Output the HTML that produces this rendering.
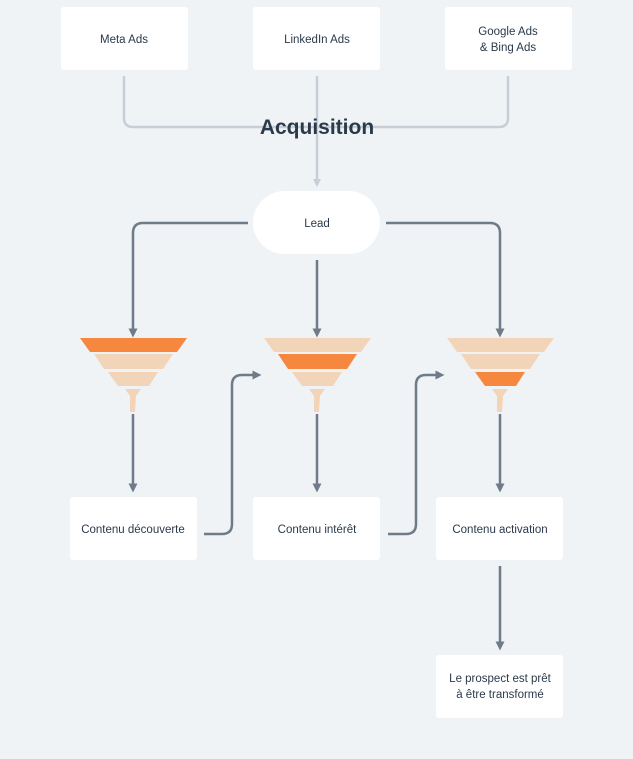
<!DOCTYPE html>
<html><head><meta charset="utf-8"><style>
html,body{margin:0;padding:0;background:#f0f3f6;}
svg{display:block;font-family:"Liberation Sans",sans-serif;}
</style></head><body>
<svg width="633" height="759" viewBox="0 0 633 759" xmlns="http://www.w3.org/2000/svg">
<defs>
<marker id="ag" markerWidth="8" markerHeight="8" refX="4" refY="4" orient="auto" markerUnits="userSpaceOnUse"><path d="M0,0 L8,4 L0,8 z" fill="#c8ced6"/></marker>
<marker id="ad" markerWidth="9" markerHeight="9" refX="4.5" refY="4.5" orient="auto" markerUnits="userSpaceOnUse"><path d="M0,0 L9,4.5 L0,9 z" fill="#6e7b88"/></marker>
<g id="f1"><polygon points="-53,338 54,338 44,352 -43,352" fill="#f5873f"/><polygon points="-39,354 40,354 30,369 -29,369" fill="#f2d5b8"/><polygon points="-25,372 25,372 16,386 -15,386" fill="#f2d5b8"/><polygon points="-8,389 8,389 3,396 2,412 -3,412 -3,396" fill="#f2d5b8"/></g>
<g id="f2"><polygon points="-53,338 54,338 44,352 -43,352" fill="#f2d5b8"/><polygon points="-39,354 40,354 30,369 -29,369" fill="#f5873f"/><polygon points="-25,372 25,372 16,386 -15,386" fill="#f2d5b8"/><polygon points="-8,389 8,389 3,396 2,412 -3,412 -3,396" fill="#f2d5b8"/></g>
<g id="f3"><polygon points="-53,338 54,338 44,352 -43,352" fill="#f2d5b8"/><polygon points="-39,354 40,354 30,369 -29,369" fill="#f2d5b8"/><polygon points="-25,372 25,372 16,386 -15,386" fill="#f5873f"/><polygon points="-8,389 8,389 3,396 2,412 -3,412 -3,396" fill="#f2d5b8"/></g>
</defs>
<g fill="none" stroke="#c8ced6" stroke-width="2.5">
<path d="M124,76 V118 Q124,127 133,127 H499 Q508,127 508,118 V76"/>
<path d="M317,76 V183" marker-end="url(#ag)"/>
</g>
<text x="317" y="134" text-anchor="middle" font-size="21" font-weight="bold" fill="#2a3a4b">Acquisition</text>
<g fill="#fff">
<rect x="61" y="7" width="127" height="63" rx="3"/>
<rect x="253" y="7" width="127" height="63" rx="3"/>
<rect x="445" y="7" width="127" height="63" rx="3"/>
<rect x="253" y="191" width="127" height="63" rx="31.5"/>
<rect x="70" y="497" width="127" height="63" rx="3"/>
<rect x="253" y="497" width="127" height="63" rx="3"/>
<rect x="436" y="497" width="127" height="63" rx="3"/>
<rect x="436" y="655" width="127" height="63" rx="3"/>
</g>
<g fill="none" stroke="#6e7b88" stroke-width="2.5">
<path d="M248,223 H143 Q133,223 133,233 V333" marker-end="url(#ad)"/>
<path d="M386,223 H490 Q500,223 500,233 V333" marker-end="url(#ad)"/>
<path d="M317,260 V333" marker-end="url(#ad)"/>
<path d="M133,414 V488" marker-end="url(#ad)"/>
<path d="M317,414 V488" marker-end="url(#ad)"/>
<path d="M500,414 V488" marker-end="url(#ad)"/>
<path d="M204,534 H222 Q232,534 232,524 V385 Q232,375 242,375 H257" marker-end="url(#ad)"/>
<path d="M388,534 H406 Q416,534 416,524 V385 Q416,375 426,375 H440" marker-end="url(#ad)"/>
<path d="M500,566 V646" marker-end="url(#ad)"/>
</g>
<use href="#f1" x="133"/>
<use href="#f2" x="317"/>
<use href="#f3" x="500"/>
<g font-size="11.5" fill="#2a3a4b" text-anchor="middle">
<text x="124" y="43">Meta Ads</text>
<text x="317" y="43">LinkedIn Ads</text>
<text x="508" y="35">Google Ads</text>
<text x="508" y="51">&amp; Bing Ads</text>
<text x="317" y="227">Lead</text>
<text x="133" y="533">Contenu découverte</text>
<text x="317" y="533">Contenu intérêt</text>
<text x="500" y="533">Contenu activation</text>
<text x="500" y="682">Le prospect est prêt</text>
<text x="500" y="698">à être transformé</text>
</g>
</svg>
</body></html>
